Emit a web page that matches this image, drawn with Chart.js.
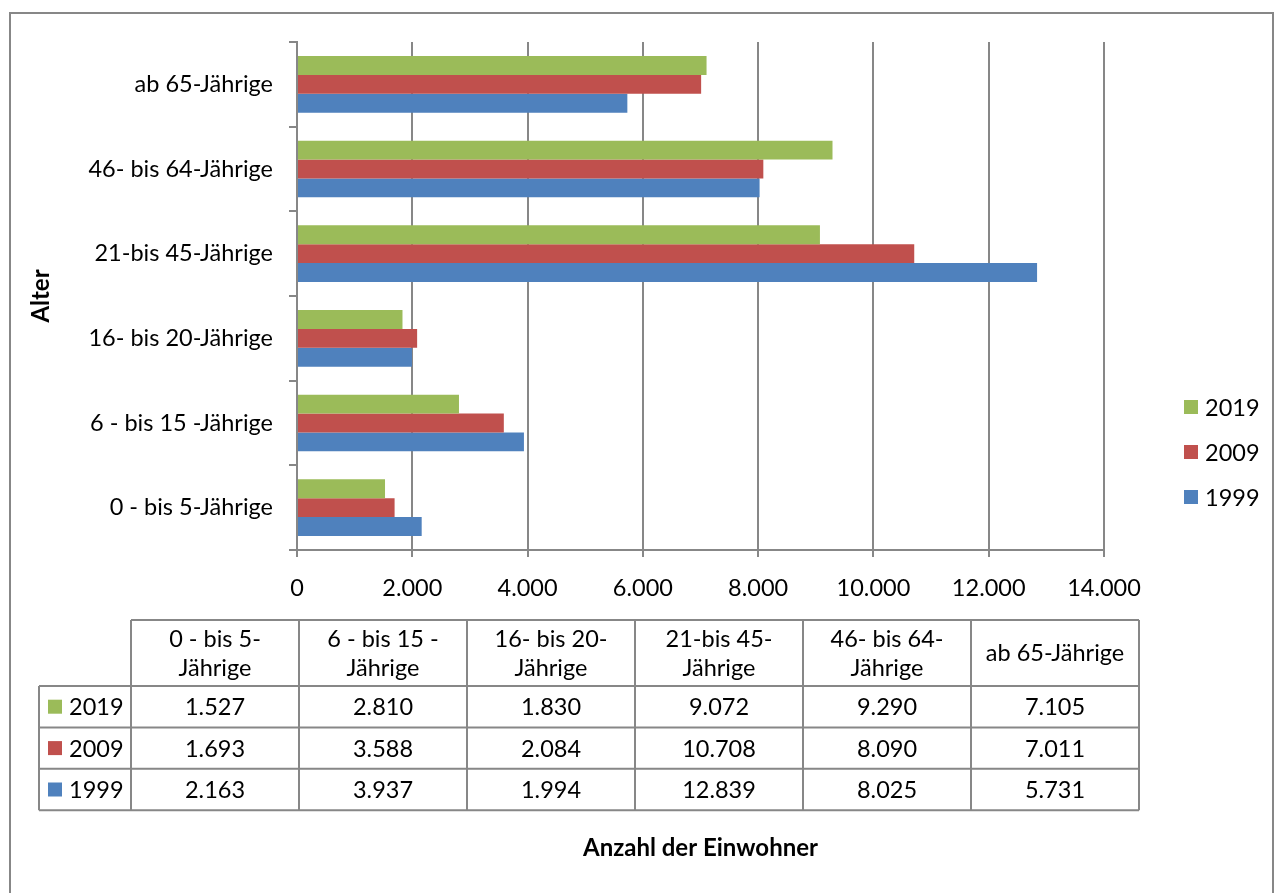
<!DOCTYPE html>
<html>
<head>
<meta charset="utf-8">
<title>Einwohner nach Altersgruppen</title>
<script src="https://cdn.jsdelivr.net/npm/chart.js@4/dist/chart.umd.min.js"></script>
<style>
  html, body { margin: 0; padding: 0; background: #ffffff; }
  #wrap { width: 1274px; height: 893px; position: relative; }
</style>
</head>
<body>
<div id="wrap"><canvas id="chart" width="1274" height="893"></canvas></div>
<script>
// Age groups, youngest first (drawn bottom-up on the chart, left-to-right in the table)
const categories = [
  '0 - bis 5-Jährige',
  '6 - bis 15 -Jährige',
  '16- bis 20-Jährige',
  '21-bis 45-Jährige',
  '46- bis 64-Jährige',
  'ab 65-Jährige'
];

// Residents per age group and year
const years = ['2019', '2009', '1999'];
const values2019 = [1527, 2810, 1830, 9072, 9290, 7105];
const values2009 = [1693, 3588, 2084, 10708, 8090, 7011];
const values1999 = [2163, 3937, 1994, 12839, 8025, 5731];

// Axis range and tick spacing of the value axis
const axisMin = 0;
const axisMax = 14000;
const axisStep = 2000;

const axisTitleY = 'Alter';
const axisTitleX = 'Anzahl der Einwohner';

const colors = { '2019': '#9BBB59', '2009': '#C0504D', '1999': '#4F81BD' };
const gridColor = '#878787';
const FONT = 'Lato, "Open Sans", sans-serif';
const FS = 23.5;

function fmtDE(n) {
  return String(Math.round(n)).replace(/\B(?=(\d{3})+(?!\d))/g, '.');
}

// Frame, axis titles, side legend and data table below the plot
const extras = {
  id: 'extras',
  afterDraw(chart) {
    const ctx = chart.ctx;
    const area = chart.chartArea;
    ctx.save();

    // outer frame
    ctx.strokeStyle = gridColor;
    ctx.lineWidth = 2;
    ctx.strokeRect(10, 13, 1263, 900);

    // y axis title
    ctx.fillStyle = '#000';
    ctx.font = 'bold 24px ' + FONT;
    ctx.textAlign = 'center';
    ctx.textBaseline = 'middle';
    ctx.save();
    ctx.translate(41, (area.top + area.bottom) / 2);
    ctx.rotate(-Math.PI / 2);
    ctx.fillText(axisTitleY, 0, 0);
    ctx.restore();

    // x axis title
    ctx.fillText(axisTitleX, (area.left + area.right) / 2, 848);

    const ds = chart.data.datasets;

    // legend on the right
    ctx.font = FS + 'px ' + FONT;
    ctx.textAlign = 'left';
    const legY0 = 407, legStep = 45;
    ds.forEach((d, i) => {
      const y = legY0 + i * legStep;
      ctx.fillStyle = d.backgroundColor;
      ctx.fillRect(1184, y - 7, 14, 14);
      ctx.fillStyle = '#000';
      ctx.fillText(d.label, 1205, y + 1);
    });

    // data table
    const tLeft = 39, keyRight = 131, colW = 168;
    const tTop = 620, headBottom = 686, rowH = 41.4;
    const nCols = chart.data.labels.length;
    const tRight = keyRight + nCols * colW;
    const tBottom = headBottom + ds.length * rowH;

    ctx.strokeStyle = gridColor;
    ctx.lineWidth = 2;
    ctx.beginPath();
    ctx.moveTo(keyRight, tTop); ctx.lineTo(tRight, tTop);
    for (let r = 0; r <= ds.length; r++) {
      const y = headBottom + r * rowH;
      ctx.moveTo(tLeft, y); ctx.lineTo(tRight, y);
    }
    ctx.moveTo(tLeft, headBottom); ctx.lineTo(tLeft, tBottom);
    for (let c = 0; c <= nCols; c++) {
      const x = keyRight + c * colW;
      ctx.moveTo(x, tTop); ctx.lineTo(x, tBottom);
    }
    ctx.stroke();

    // header labels (wrapped after the last hyphen when too wide)
    ctx.fillStyle = '#000';
    ctx.textAlign = 'center';
    ctx.font = FS + 'px ' + FONT;
    chart.data.labels.forEach((lab, c) => {
      const cx = keyRight + c * colW + colW / 2;
      const cy = (tTop + headBottom) / 2;
      if (ctx.measureText(lab).width > colW - 12) {
        const k = lab.lastIndexOf('-', lab.length - 2) + 1;
        ctx.fillText(lab.slice(0, k), cx, cy - 14);
        ctx.fillText(lab.slice(k), cx, cy + 15);
      } else {
        ctx.fillText(lab, cx, cy);
      }
    });

    // rows
    ds.forEach((d, r) => {
      const cy = headBottom + r * rowH + rowH / 2;
      ctx.fillStyle = d.backgroundColor;
      ctx.fillRect(48, cy - 7, 14, 14);
      ctx.fillStyle = '#000';
      ctx.textAlign = 'left';
      ctx.fillText(d.label, 69, cy + 1);
      ctx.textAlign = 'center';
      d.data.forEach((v, c) => {
        ctx.fillText(fmtDE(v), keyRight + c * colW + colW / 2, cy + 1);
      });
    });

    ctx.restore();
  }
};

const seriesValues = { '2019': values2019, '2009': values2009, '1999': values1999 };

new Chart(document.getElementById('chart'), {
  type: 'bar',
  data: {
    labels: categories,
    datasets: years.map(y => ({
      label: y,
      data: seriesValues[y],
      backgroundColor: colors[y],
      borderWidth: 0,
      categoryPercentage: 0.67,
      barPercentage: 1.0
    }))
  },
  options: {
    indexAxis: 'y',
    responsive: false,
    animation: false,
    layout: { padding: { left: 0, top: 42, right: 170, bottom: 0 } },
    plugins: {
      legend: { display: false },
      tooltip: { enabled: false }
    },
    scales: {
      x: {
        min: axisMin,
        max: axisMax,
        afterFit(scale) { scale.height = 893 - 550; },
        ticks: {
          stepSize: axisStep,
          color: '#000',
          font: { family: FONT, size: FS },
          padding: 17,
          callback: v => fmtDE(v)
        },
        grid: {
          color: gridColor,
          lineWidth: 2,
          tickLength: 7,
          drawTicks: true
        },
        border: { color: gridColor, width: 2 }
      },
      y: {
        reverse: true,
        afterFit(scale) { scale.width = 297; },
        ticks: {
          color: '#000',
          font: { family: FONT, size: FS },
          padding: 16
        },
        grid: {
          drawOnChartArea: false,
          drawTicks: true,
          tickLength: 8,
          color: gridColor,
          lineWidth: 2
        },
        border: { color: gridColor, width: 2 }
      }
    }
  },
  plugins: [extras]
});
</script>
</body>
</html>
